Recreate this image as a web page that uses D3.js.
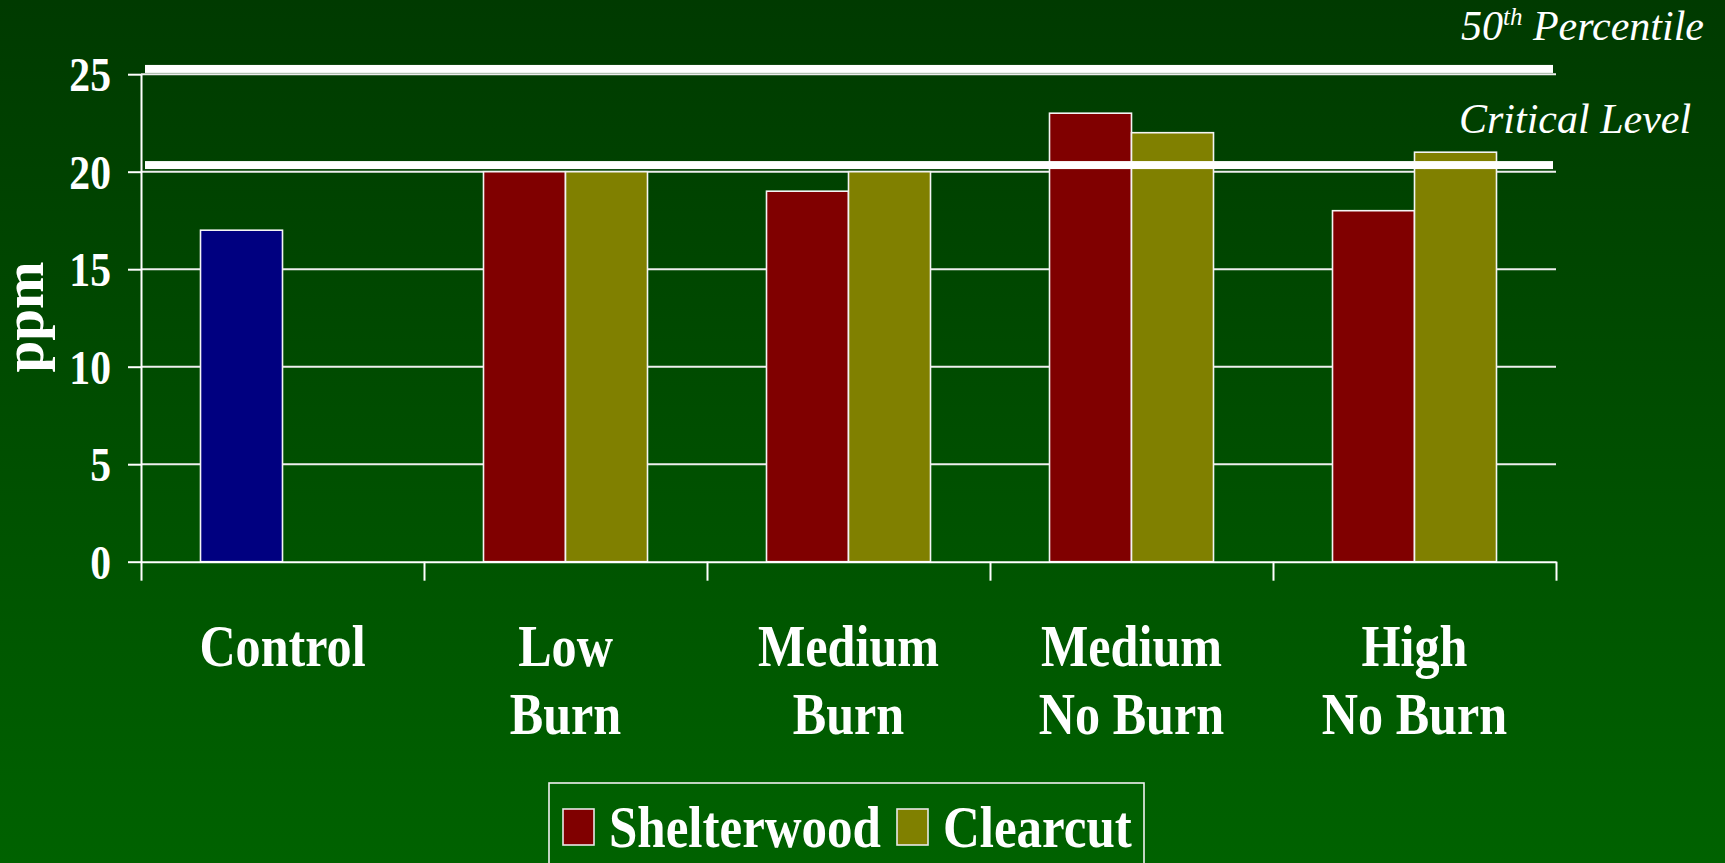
<!DOCTYPE html>
<html>
<head>
<meta charset="utf-8">
<script src="https://cdn.jsdelivr.net/npm/d3@7"></script>
<style>
  html, body { margin: 0; padding: 0; overflow: hidden; background: #004d00; }
  svg { display: block; }
  text { font-family: "Liberation Serif", "Times New Roman", serif; fill: #fff; }
</style>
</head>
<body>
<script>
// ---- data ----
const categories = ["Control", "Low\nBurn", "Medium\nBurn", "Medium\nNo Burn", "High\nNo Burn"];
const seriesNames = ["Shelterwood", "Clearcut"];
const control = [17, null, null, null, null];
const shelterwood = [null, 20, 19, 23, 18];
const clearcut = [null, 20, 20, 22, 21];
const yTicks = [0, 5, 10, 15, 20, 25];
const percentile50 = 25.27;
const criticalLevel = 20.34;
const refLabels = ["50th Percentile", "Critical Level"];

// ---- layout ----
const W = 1725, H = 863;
const plot = { left: 141, right: 1556, top: 74.2, bottom: 561.7 };
const SX = 0.85; // horizontal compression of chart text
const colors = { control: "#000080", Shelterwood: "#800000", Clearcut: "#808000" };

const svg = d3.select("body").append("svg").attr("width", W).attr("height", H);

// background gradient
const defs = svg.append("defs");
const grad = defs.append("linearGradient").attr("id", "bg").attr("x1", 0).attr("y1", 0).attr("x2", 0).attr("y2", 1);
grad.append("stop").attr("offset", "0%").attr("stop-color", "#003a00");
grad.append("stop").attr("offset", "100%").attr("stop-color", "#006200");
svg.append("rect").attr("width", W).attr("height", H).attr("fill", "url(#bg)");

// scales
const x = d3.scaleBand().domain(categories).range([plot.left, plot.right]).padding(0);
const x1 = d3.scaleBand().domain(seriesNames).range([0, x.bandwidth()]).paddingInner(0).paddingOuter(0.7256);
const y = d3.scaleLinear().domain([0, 25]).range([plot.bottom, plot.top]);
const xEdges = d3.scaleLinear().domain([0, categories.length]).range([plot.left, plot.right]);

// gridlines
svg.append("g").selectAll("line").data(yTicks.filter(d => d > 0)).join("line")
  .attr("x1", plot.left).attr("x2", plot.right)
  .attr("y1", d => y(d)).attr("y2", d => y(d))
  .attr("stroke", "#eeeeee").attr("stroke-width", 2);

// bars
const barData = [];
categories.forEach((c, i) => {
  if (control[i] != null) barData.push({ c, s: "Shelterwood", v: control[i], color: colors.control });
  if (shelterwood[i] != null) barData.push({ c, s: "Shelterwood", v: shelterwood[i], color: colors.Shelterwood });
  if (clearcut[i] != null) barData.push({ c, s: "Clearcut", v: clearcut[i], color: colors.Clearcut });
});
svg.append("g").selectAll("rect").data(barData).join("rect")
  .attr("x", d => x(d.c) + x1(d.s))
  .attr("width", x1.bandwidth())
  .attr("y", d => y(d.v))
  .attr("height", d => y(0) - y(d.v))
  .attr("fill", d => d.color)
  .attr("stroke", "#f4f4f4").attr("stroke-width", 1.6);

// y axis
const yAxis = svg.append("g").attr("transform", `translate(${plot.left},0)`)
  .call(d3.axisLeft(y).tickValues(yTicks).tickSize(13).tickSizeOuter(0).tickFormat(d3.format("d")));
yAxis.select(".domain").attr("stroke", "#fff").attr("stroke-width", 2);
yAxis.selectAll(".tick line").attr("stroke", "#fff").attr("stroke-width", 2);
yAxis.selectAll(".tick text")
  .attr("x", 0).attr("dy", "0.34em")
  .attr("transform", `translate(-30,0) scale(${SX},1)`)
  .style("font-size", "49px").style("font-weight", "bold")
  .style("font-family", "'Liberation Serif', 'Times New Roman', serif")
  .attr("fill", "#fff");

// x axis (ticks at category edges)
const xAxis = svg.append("g").attr("transform", `translate(0,${plot.bottom})`)
  .call(d3.axisBottom(xEdges).tickValues(d3.range(categories.length + 1)).tickSize(19).tickSizeOuter(0).tickFormat(""));
xAxis.select(".domain").attr("stroke", "#fff").attr("stroke-width", 2);
xAxis.selectAll(".tick line").attr("stroke", "#fff").attr("stroke-width", 2);

// category labels
const catG = svg.append("g");
categories.forEach(c => {
  const lines = c.split("\n");
  const cx = x(c) + x.bandwidth() / 2;
  lines.forEach((ln, j) => {
    catG.append("text")
      .attr("transform", `translate(${cx},${666 + j * 68}) scale(${SX},1)`)
      .attr("text-anchor", "middle")
      .style("font-size", "59px").style("font-weight", "bold")
      .text(ln);
  });
});

// y axis title
svg.append("text")
  .attr("transform", "translate(43,317) rotate(-90)")
  .attr("text-anchor", "middle")
  .style("font-size", "57px").style("font-weight", "bold")
  .text("ppm");

// reference lines
const refG = svg.append("g");
[percentile50, criticalLevel].forEach(v => {
  refG.append("rect")
    .attr("x", 145).attr("width", 1553 - 145)
    .attr("y", y(v) - 4).attr("height", 8)
    .attr("fill", "#fff");
});

// reference labels
const t1 = svg.append("text").attr("x", 1461).attr("y", 40)
  .style("font-size", "42px").style("font-style", "italic");
t1.append("tspan").text("50");
t1.append("tspan").attr("dy", -15).style("font-size", "25px").text("th");
t1.append("tspan").attr("dy", 15).text(" Percentile");

svg.append("text").attr("x", 1459).attr("y", 133)
  .style("font-size", "42px").style("font-style", "italic")
  .text(refLabels[1]);

// legend
const lg = svg.append("g");
lg.append("rect").attr("x", 549).attr("y", 783).attr("width", 595).attr("height", 120)
  .attr("fill", "none").attr("stroke", "#f0f0f0").attr("stroke-width", 1.6);
const legendItems = [
  { name: seriesNames[0], sx: 563, tx: 609 },
  { name: seriesNames[1], sx: 897, tx: 943 }
];
legendItems.forEach(it => {
  lg.append("rect").attr("x", it.sx).attr("y", 809).attr("width", 31).attr("height", 36)
    .attr("fill", colors[it.name]).attr("stroke", "#e8e8e8").attr("stroke-width", 1.6);
  lg.append("text")
    .attr("transform", `translate(${it.tx},847) scale(${SX},1)`)
    .style("font-size", "60px").style("font-weight", "bold")
    .text(it.name);
});
</script>
</body>
</html>
